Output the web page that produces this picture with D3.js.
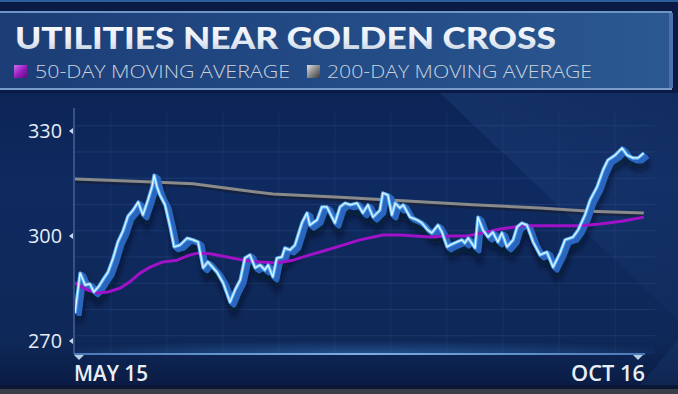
<!DOCTYPE html>
<html><head><meta charset="utf-8">
<script src="https://cdn.jsdelivr.net/npm/d3@7"></script>
<style>html,body{margin:0;padding:0;background:#0b1f4b;overflow:hidden}svg{display:block}</style>
</head><body><svg id="c" width="678" height="394"></svg>
<script>
// ---- data (day offset from May 15, value) ----
const title = "UTILITIES NEAR GOLDEN CROSS";
const legendLabels = ["50-DAY MOVING AVERAGE", "200-DAY MOVING AVERAGE"];
const xTickDays = [0, 154];
const xTickLabels = ["MAY 15", "OCT 16"];
const yTicks = [270, 300, 330];

const priceDays = [-1.1,0.3,1.7,3.0,4.1,5.5,6.9,8.0,9.4,10.7,12.1,13.5,14.9,16.3,17.6,19.0,20.1,20.7,21.5,22.3,23.7,25.1,26.2,27.8,29.8,31.4,32.8,34.2,35.5,38.0,39.7,41.6,43.0,44.4,45.7,47.1,48.5,49.9,51.2,52.1,53.4,54.5,55.9,56.7,58.1,59.5,61.4,62.8,63.6,65.6,66.9,68.3,70.5,71.9,73.3,74.7,76.6,78.2,79.6,81.0,82.9,83.7,85.1,86.2,87.1,88.4,89.3,91.2,93.1,94.5,96.1,97.2,98.9,100.0,101.4,102.2,104.1,105.5,106.3,107.2,109.1,109.9,111.3,112.7,114.0,115.4,116.5,117.9,119.6,120.7,122.0,123.4,125.1,127.0,128.9,130.6,132.5,133.9,136.1,137.5,139.4,140.8,142.7,144.4,145.7,147.7,149.6,151.0,152.6,154.0,155.6];
const priceValues = [278.0,289.4,286.0,286.3,284.0,285.7,288.0,289.7,293.7,298.3,301.4,305.7,307.4,309.7,306.0,310.3,314.0,317.4,314.0,311.7,308.9,302.6,296.9,297.4,299.4,298.9,298.3,290.9,292.6,289.7,286.6,281.1,284.6,287.4,293.7,294.6,290.9,291.7,290.3,291.7,288.3,293.7,294.0,296.6,296.0,297.4,303.7,306.6,303.1,304.6,308.3,308.3,303.7,308.3,309.4,308.9,309.4,306.6,308.9,305.4,307.4,312.3,311.7,306.0,309.4,308.0,308.9,305.4,304.6,303.7,301.7,300.9,303.1,301.1,296.9,297.4,298.3,298.9,298.0,299.4,296.6,305.4,301.7,299.7,301.1,298.3,300.9,296.9,298.9,302.6,303.7,303.1,298.3,294.6,295.4,291.1,295.1,298.9,299.7,301.7,306.0,310.3,314.0,318.9,321.7,323.1,325.1,323.1,322.3,322.3,323.7];

const ma50Days = [-1.1,2.2,5.0,8.0,11.3,14.0,16.8,19.6,23.1,27.0,30.6,32.8,36.1,40.8,45.2,49.9,54.5,59.0,63.6,68.3,72.7,77.4,83.7,88.4,96.7,102.2,106.9,111.3,116.0,122.3,131.7,138.0,143.5,149.9,155.6];
const ma50Values = [286.6,284.6,283.7,284.0,285.1,286.9,289.4,291.1,292.6,293.1,294.6,295.1,294.9,294.0,293.1,292.6,292.3,293.1,294.6,296.0,297.4,298.9,300.3,300.3,299.7,300.0,300.0,300.9,302.0,302.9,302.9,302.9,303.4,304.3,305.4];

const ma200Days = [-1.1,20.4,31.4,42.4,53.4,71.9,90.4,108.5,127.0,140.8,155.6];
const ma200Values = [316.3,315.4,314.9,313.4,312.0,311.1,310.0,308.9,308.0,307.1,306.6];

// ---- drawing ----
const svg = d3.select("#c");
const W = 678, H = 394;
const defs = svg.append("defs");

function lin(id, x1,y1,x2,y2, stops){
  const g = defs.append("linearGradient").attr("id",id)
    .attr("x1",x1).attr("y1",y1).attr("x2",x2).attr("y2",y2);
  stops.forEach(s=>g.append("stop").attr("offset",s[0]).attr("stop-color",s[1]).attr("stop-opacity",s[2]===undefined?1:s[2]));
}
lin("bgMain","0","0","0","1",[[0,"#0c2456"],[0.3,"#0f2a60"],[0.85,"#0e2858"],[1,"#0a1c44"]]);
lin("titleBg","0","0","1","0",[[0,"#1c3d76"],[0.5,"#234b86"],[1,"#2b5890"]]);
lin("titleTxt","0","0","0","1",[[0,"#ffffff"],[0.6,"#e8eef6"],[1,"#b8c6d6"]]);
lin("sqP","0","0","1","1",[[0,"#d070f0"],[0.5,"#9a20c0"],[1,"#5a0a80"]]);
lin("sqG","0","0","1","1",[[0,"#e0e0e0"],[0.5,"#8a8a8a"],[1,"#3a3a3a"]]);
lin("axisLine","0","0","1","0",[[0,"#4a7ab8"],[0.5,"#7eaee4"],[1,"#4a7ab8"]]);
lin("diag","0","0","1","1",[[0,"#3a68aa",0.18],[1,"#3a68aa",0.05]]);

const rg = defs.append("radialGradient").attr("id","glow").attr("cx","0.5").attr("cy","1").attr("r","0.6")
  .attr("gradientTransform","translate(0.5,1) scale(1,0.35) translate(-0.5,-1)");
rg.append("stop").attr("offset",0).attr("stop-color","#3d86d6").attr("stop-opacity",0.45);
rg.append("stop").attr("offset",1).attr("stop-color","#3d86d6").attr("stop-opacity",0);

const f = defs.append("filter").attr("id","shadow").attr("x","-10%").attr("y","-10%").attr("width","120%").attr("height","130%");
f.append("feGaussianBlur").attr("stdDeviation",3);

// background
svg.append("rect").attr("width",W).attr("height",H).attr("fill","#0a1c46");
svg.append("rect").attr("x",0).attr("y",0).attr("width",W).attr("height",2).attr("fill","#2c5e9c");
svg.append("rect").attr("x",0).attr("y",93).attr("width",W).attr("height",292).attr("fill","url(#bgMain)");
// diagonal lighter region
svg.append("path").attr("d","M440,93 L678,93 L678,320 Z").attr("fill","url(#diag)");
svg.append("path").attr("d","M640,385 L678,340 L678,385 Z").attr("fill","#3a68aa").attr("fill-opacity",0.12);
// title panel
svg.append("rect").attr("x",0).attr("y",11).attr("width",672).attr("height",79).attr("fill","url(#titleBg)");
svg.append("rect").attr("x",0).attr("y",11).attr("width",672).attr("height",2).attr("fill","#6e95c8");
svg.append("rect").attr("x",0).attr("y",88).attr("width",672).attr("height",2).attr("fill","#7a9ccc");
svg.append("rect").attr("x",669).attr("y",13).attr("width",4).attr("height",75).attr("fill","#4d72a8");
svg.append("rect").attr("x",0).attr("y",385).attr("width",W).attr("height",9).attr("fill","#0a1634");
svg.append("rect").attr("x",0).attr("y",389).attr("width",W).attr("height",5).attr("fill","#3a3e48");

// title
svg.append("text").attr("x",15).attr("y",49).text(title)
  .attr("font-family","Lato, 'Open Sans', sans-serif").attr("font-weight",900)
  .attr("font-size",31).attr("fill","url(#titleTxt)")
  .attr("textLength",541).attr("lengthAdjust","spacingAndGlyphs");

// legend
const legendX = [14, 307], legendTextX = [35, 327], legendW = [255, 265];
const legendFill = ["url(#sqP)","url(#sqG)"];
legendLabels.forEach((t,i)=>{
  svg.append("rect").attr("x",legendX[i]).attr("y",65).attr("width",13).attr("height",13).attr("fill",legendFill[i]);
  svg.append("text").attr("x",legendTextX[i]).attr("y",78).text(t)
    .attr("font-family","'Open Sans', Lato, sans-serif").attr("font-weight",300)
    .attr("font-size",18).attr("fill","#c9d2de")
    .attr("textLength",legendW[i]).attr("lengthAdjust","spacingAndGlyphs");
});

// scales
const x = d3.scaleLinear().domain([0,154]).range([79,638]);
const y = d3.scaleLinear().domain([270,330]).range([341,131]);
const plotL = 74, plotR = 655, plotT = 112, plotB = 354;

// gridlines
const g = svg.append("g");
d3.range(271.5, 333, 7.5).forEach(v=>{
  g.append("line").attr("x1",plotL).attr("x2",plotR).attr("y1",y(v)).attr("y2",y(v))
   .attr("stroke","#3a5c94").attr("stroke-opacity",0.3).attr("stroke-width",1);
});
d3.range(8.8, 150, 15.43).forEach(d=>{
  g.append("line").attr("y1",plotT).attr("y2",plotB).attr("x1",x(d)).attr("x2",x(d))
   .attr("stroke","#3a5c94").attr("stroke-opacity",0.22).attr("stroke-width",1);
});
// bottom glow
svg.append("rect").attr("x",plotL).attr("y",290).attr("width",plotR-plotL).attr("height",64).attr("fill","url(#glow)");

// y axis line
svg.append("line").attr("x1",plotL).attr("x2",plotL).attr("y1",108).attr("y2",plotB)
  .attr("stroke","#4f70a6").attr("stroke-width",1.2);
// x axis line
svg.append("rect").attr("x",plotL).attr("y",plotB-1).attr("width",plotR-plotL-10).attr("height",2).attr("fill","url(#axisLine)");

// y ticks
yTicks.forEach(v=>{
  svg.append("path").attr("d",`M${plotL-1},${y(v)-3} L${plotL-5},${y(v)} L${plotL-1},${y(v)+3}Z`).attr("fill","#c8d8ee");
  svg.append("text").attr("x",62).attr("y",y(v)+7).attr("text-anchor","end").text(v)
    .attr("font-family","'Open Sans', sans-serif").attr("font-size",20).attr("fill","#e6edf6")
    .attr("textLength",34).attr("lengthAdjust","spacingAndGlyphs");
});
// x ticks
xTickDays.forEach((d,i)=>{
  const px = x(d);
  svg.append("path").attr("d",`M${px-5},${plotB+1} L${px+5},${plotB+1} L${px},${plotB+6}Z`).attr("fill","#b8cde6");
  const t = svg.append("text").attr("y",381).text(xTickLabels[i])
    .attr("font-family","'Open Sans', sans-serif").attr("font-weight",600).attr("font-size",22).attr("fill","#e8eef6")
    .attr("textLength",74).attr("lengthAdjust","spacingAndGlyphs");
  if(i===0) t.attr("x",74); else t.attr("x",645).attr("text-anchor","end");
});

// lines
const pts = (ds,vs)=>ds.map((d,i)=>[d,vs[i]]);
const line = d3.line().x(p=>x(p[0])).y(p=>y(p[1]));
const price = pts(priceDays, priceValues);

defs.append("clipPath").attr("id","clip").append("rect").attr("x",plotL+1).attr("y",100).attr("width",plotR-plotL).attr("height",plotB-100-1);
const pl = svg.append("g").attr("clip-path","url(#clip)");

// drop shadow of price
pl.append("path").attr("d",line(price)).attr("fill","none").attr("stroke","#020a20").attr("stroke-opacity",0.7)
  .attr("stroke-width",6).attr("transform","translate(4,9)").attr("filter","url(#shadow)");
// 200-day
const ma200 = pts(ma200Days,ma200Values);
pl.append("path").attr("d",line(ma200)).attr("fill","none").attr("stroke","#1a1a22").attr("stroke-opacity",0.5)
  .attr("stroke-width",4).attr("transform","translate(0,2)");
pl.append("path").attr("d",line(ma200)).attr("fill","none").attr("stroke","#8a8a8a").attr("stroke-width",3);
// extrusion band
pl.append("path").attr("d",line(price)).attr("fill","none").attr("stroke","#2a66bf")
  .attr("stroke-width",5).attr("stroke-linejoin","round").attr("transform","translate(4,3)");
pl.append("path").attr("d",line(price)).attr("fill","none").attr("stroke","#2a66bf")
  .attr("stroke-width",5).attr("stroke-linejoin","round").attr("transform","translate(2,1.5)");
// 50-day
pl.append("path").attr("d",line(pts(ma50Days,ma50Values))).attr("fill","none").attr("stroke","#a012c8").attr("stroke-width",3)
  .attr("stroke-linejoin","round");
// price main
pl.append("path").attr("d",line(price)).attr("fill","none").attr("stroke","#5cb4f6")
  .attr("stroke-width",3.4).attr("stroke-linejoin","round");
pl.append("path").attr("d",line(price)).attr("fill","none").attr("stroke","#e4f4ff")
  .attr("stroke-width",1.3).attr("stroke-linejoin","round");
</script></body></html>
